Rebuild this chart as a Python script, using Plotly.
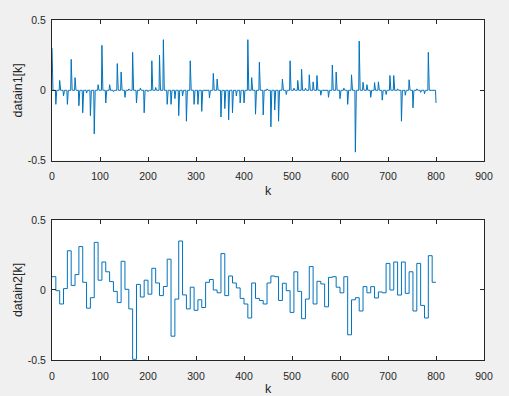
import numpy as np
import plotly.graph_objects as go
from plotly.subplots import make_subplots

# ---- data ----
# top: sparse spikes every 8 samples (k = 0, 8, ..., 800)
spike_vals = [
    0.30, -0.10, 0.07, -0.04, -0.10, 0.22, 0.09, -0.11, -0.16, -0.02,
    -0.18, -0.31, 0.04, 0.32, -0.09, 0.04, -0.01, 0.19, 0.13, -0.05,
    0.01, 0.27, -0.09, 0.015, -0.16, -0.01, 0.21, 0.02, 0.25, 0.36,
    -0.10, -0.10, -0.06, -0.18, -0.04, -0.22, 0.21, -0.10, -0.10, -0.15,
    -0.005, -0.055, 0.12, 0.08, -0.19, -0.13, -0.21, -0.16, -0.04, -0.09,
    -0.09, 0.36, 0.09, -0.17, 0.20, -0.175, 0.01, -0.26, -0.14, -0.22,
    0.08, -0.03, 0.21, 0.015, 0.07, 0.15, 0.015, 0.11, 0.06, 0.105,
    -0.035, -0.005, -0.05, 0.18, 0.13, -0.06, 0.015, -0.10, 0.11, -0.44,
    0.35, 0.057, 0.04, -0.05, 0.055, 0.06, -0.07, -0.03, 0.105, 0.105,
    0.01, -0.22, -0.035, 0.075, -0.125, 0.01, -0.015, -0.025, 0.27, 0.0,
    -0.09,
]
spike_step = 8
n_samples = 801

# bottom: held levels, one per 8-sample block
hold_vals = [
    0.095, -0.005, -0.10, 0.01, 0.28, 0.033, 0.11, 0.31, 0.055, -0.13,
    -0.055, 0.34, 0.07, 0.20, 0.13, 0.06, -0.01, -0.09, 0.205, 0.005,
    -0.135, -0.495, 0.04, -0.05, 0.07, -0.03, 0.155, 0.05, -0.04, 0.025,
    0.22, -0.33, -0.065, 0.35, -0.035, -0.135, 0.02, -0.145, -0.07, -0.125,
    0.055, 0.075, 0.0, -0.02, 0.26, -0.04, 0.10, 0.05, 0.015, -0.06,
    -0.10, -0.20, 0.05, -0.06, -0.075, -0.10, 0.05, 0.10, 0.095, -0.075,
    0.048, -0.005, -0.16, 0.13, -0.01, -0.205, -0.065, 0.167, -0.10, 0.062,
    0.043, -0.12, 0.09, 0.095, 0.02, -0.02, 0.095, -0.32, -0.07, -0.055,
    -0.15, 0.024, -0.02, 0.024, -0.057, -0.014, -0.02, 0.19, 0.0, 0.20,
    -0.036, 0.20, -0.024, 0.13, -0.15, 0.19, -0.11, -0.20, 0.245, 0.055,
]

x_ticks = [0, 100, 200, 300, 400, 500, 600, 700, 800, 900]
y_ticks = [-0.5, 0, 0.5]
y_ticktext = ["-0.5", "0", "0.5"]

# ---- build series ----
k = np.arange(n_samples)
datain1 = np.zeros(n_samples)
for i, v in enumerate(spike_vals):
    datain1[i * spike_step] = v

k2 = [i * spike_step for i in range(len(hold_vals))] + [len(hold_vals) * spike_step]
datain2 = hold_vals + [hold_vals[-1]]

blue = "#0072BD"
axc = "#262626"
tick_font = dict(family="Liberation Sans, Arial, sans-serif", size=10.5, color=axc)
label_font = dict(family="Liberation Sans, Arial, sans-serif", size=12.5, color=axc)

fig = make_subplots(rows=2, cols=1)
fig.add_trace(go.Scatter(x=k, y=datain1, mode="lines",
                         line=dict(color=blue, width=1)), row=1, col=1)
fig.add_trace(go.Scatter(x=k2, y=datain2, mode="lines",
                         line=dict(color=blue, width=1, shape="hv")), row=2, col=1)

axis_common = dict(showline=True, linecolor=axc, linewidth=1, mirror="ticks",
                   ticks="inside", ticklen=4, tickcolor=axc, tickwidth=1,
                   showgrid=False, zeroline=False, tickfont=tick_font, automargin=False)

fig.update_xaxes(range=[0, 900], tickvals=x_ticks, ticktext=[str(t) for t in x_ticks],
                 ticklabelstandoff=6,
                 title=dict(text="k", font=label_font, standoff=5), **axis_common)
fig.update_yaxes(range=[-0.5, 0.5], tickvals=y_ticks, ticktext=y_ticktext,
                 ticklabelstandoff=3, **axis_common)
fig.update_yaxes(title=dict(text="datain1[k]", font=label_font, standoff=2), row=1, col=1)
fig.update_yaxes(title=dict(text="datain2[k]", font=label_font, standoff=2), row=2, col=1)

fig.update_layout(
    width=509, height=396,
    margin=dict(l=52, r=25, t=20, b=36),
    paper_bgcolor="#f0f0f0", plot_bgcolor="white",
    showlegend=False, font=tick_font,
)
fig.layout.yaxis.domain = [0.5865, 1.0]
fig.layout.yaxis2.domain = [0.0, 0.4118]

fig.write_html("out.html", config={"displayModeBar": False},
               post_script="document.body.style.margin='0';document.body.style.background='#f0f0f0';")
